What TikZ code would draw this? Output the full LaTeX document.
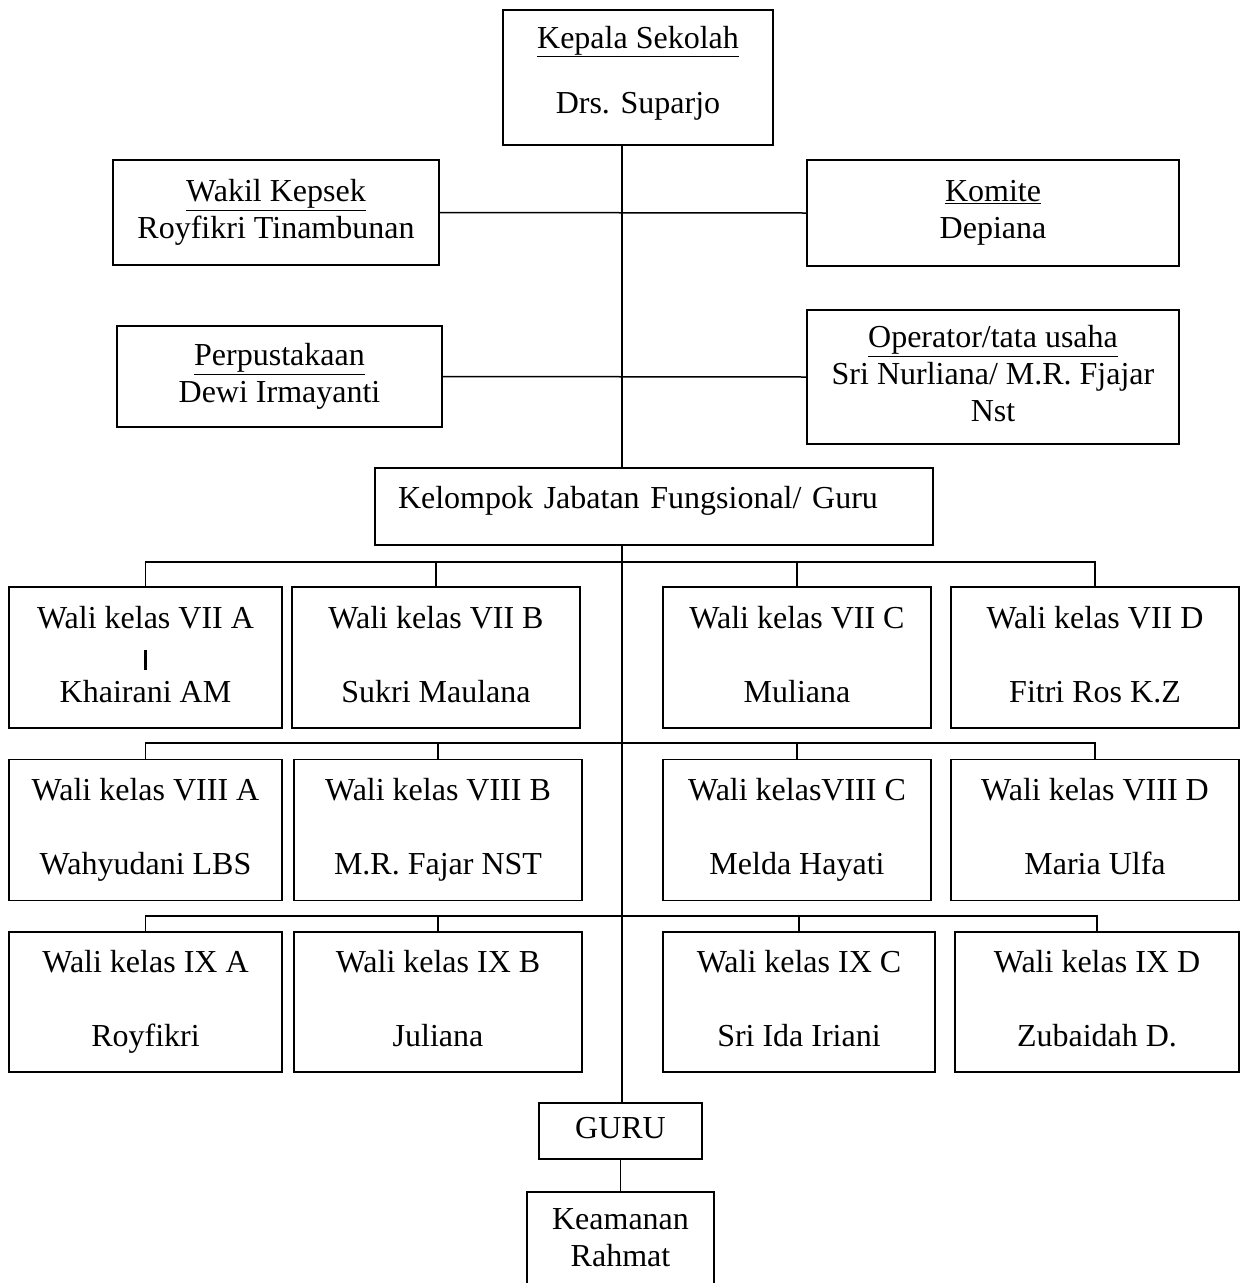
\documentclass[tikz,border=0pt]{standalone}
\usepackage{fontspec}
\setmainfont{Liberation Serif}
\usetikzlibrary{positioning}

\begin{document}
\begin{tikzpicture}[
  x=1pt, y=-1pt,
  every node/.style={font=\fontsize{32}{37}\selectfont},
  box/.style={rectangle, draw=black, line width=1.5pt, inner sep=0pt,
              align=center, text depth=7pt},
  wali/.style={box, minimum height=141pt},
  link/.style={draw=black, line width=1.5pt}
]
\useasboundingbox (0,0) rectangle (1240,1283);
\coordinate (spine) at (622,0);

% pimpinan
\node[box, minimum width=270pt, minimum height=135pt, text depth=16pt] (kepsek) at (638,77.5)
  {\underline{Kepala Sekolah}\\[28pt]Drs. Suparjo};
\node[box, minimum width=326pt, minimum height=105pt] (wakil) at (276,212.5)
  {\underline{Wakil Kepsek}\\Royfikri Tinambunan};
\node[box, minimum width=372pt, minimum height=106pt] (komite) at (993,213)
  {\underline{Komite}\\Depiana};
\node[box, minimum width=325pt, minimum height=101pt] (perpus) at (279.5,376.5)
  {\underline{Perpustakaan}\\Dewi Irmayanti};
\node[box, minimum width=372pt, minimum height=134pt] (operator) at (993,377)
  {\underline{Operator/tata usaha}\\Sri Nurliana/ M.R. Fjajar\\Nst};
\node[box, align=left, inner xsep=23pt, text width=512pt, text depth=19pt,
      minimum height=77pt] (kjf) at (654,506.5)
  {Kelompok Jabatan Fungsional/ Guru};

% wali kelas VII
\node[wali, minimum width=273pt] (a7) at (145.5,657.5)
  {Wali kelas VII A\\\rule[-5pt]{2.5pt}{20pt}\\Khairani AM};
\node[wali, minimum width=288pt] (b7) at (436,657.5) {Wali kelas VII B\\[37pt]Sukri Maulana};
\node[wali, minimum width=268pt] (c7) at (797,657.5) {Wali kelas VII C\\[37pt]Muliana};
\node[wali, minimum width=288pt] (d7) at (1095,657.5) {Wali kelas VII D\\[37pt]Fitri Ros K.Z};

% wali kelas VIII
\node[wali, minimum width=273pt] (a8) at (145.5,830) {Wali kelas VIII A\\[37pt]Wahyudani LBS};
\node[wali, minimum width=288pt] (b8) at (438,830) {Wali kelas VIII B\\[37pt]M.R. Fajar NST};
\node[wali, minimum width=268pt] (c8) at (797,830) {Wali kelasVIII C\\[37pt]Melda Hayati};
\node[wali, minimum width=288pt] (d8) at (1095,830) {Wali kelas VIII D\\[37pt]Maria Ulfa};

% wali kelas IX
\node[wali, minimum width=273pt, minimum height=140pt] (a9) at (145.5,1002) {Wali kelas IX A\\[37pt]Royfikri};
\node[wali, minimum width=288pt, minimum height=140pt] (b9) at (438,1002) {Wali kelas IX B\\[37pt]Juliana};
\node[wali, minimum width=272pt, minimum height=140pt] (c9) at (799,1002) {Wali kelas IX C\\[37pt]Sri Ida Iriani};
\node[wali, minimum width=284pt, minimum height=140pt] (d9) at (1097,1002) {Wali kelas IX D\\[37pt]Zubaidah D.};

\node[box, minimum width=163pt, minimum height=56pt] (guru) at (620.5,1131) {GURU};
\node[box, minimum width=187pt, minimum height=98pt] (aman) at (620.5,1241) {Keamanan\\Rahmat};

% garis
\draw[link] (kepsek.south -| spine) -- (kjf.north -| spine);
\draw[link] (wakil.east) -- (komite.west);
\draw[link] (perpus.east) -- (operator.west);
\draw[link] (kjf.south -| spine) -- (guru.north -| spine);
\draw[link] (guru) -- (aman);
\foreach \r/\yb in {7/562, 8/743, 9/916} {
  \coordinate (bus\r) at (622,\yb);
  \draw[link] (a\r.north) |- (bus\r) -| (d\r.north);
  \draw[link] (b\r.north) -- (b\r.north |- bus\r);
  \draw[link] (c\r.north) -- (c\r.north |- bus\r);
}
\end{tikzpicture}
\end{document}
